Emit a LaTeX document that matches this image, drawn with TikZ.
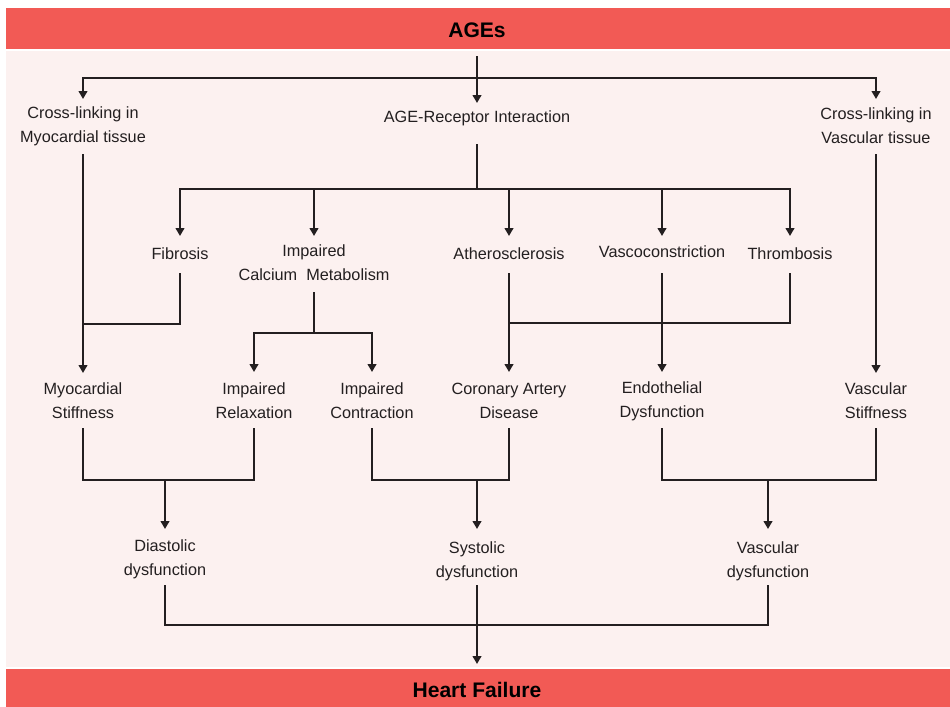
\documentclass[tikz,border=0pt]{standalone}
\usepackage{fontspec}
\setmainfont{Liberation Sans}
\usetikzlibrary{arrows.meta}
\definecolor{barred}{HTML}{F25A55}
\definecolor{panel}{HTML}{FCF1F0}
\definecolor{ink}{HTML}{231F20}
\begin{document}
\begin{tikzpicture}[x=0.75pt,y=-0.75pt,
  lbl/.style={align=center,font=\fontsize{12.2}{18}\selectfont,text=ink,inner sep=0pt},
  bar/.style={draw=none,inner sep=0pt,
              font=\bfseries\fontsize{15.8}{19}\selectfont,text=black},
  ln/.style={draw=ink,line width=1.5pt,line cap=rect},
  arr/.style={ln,-{Triangle[width=6.5pt,length=6pt]}}]
\useasboundingbox (0,0) rectangle (950,707);

% panel and title bars
\fill[panel] (6,51) rectangle (950,667);
\fill[barred] (6,8) rectangle (950,49);
\fill[barred] (6,669) rectangle (950,707);
\node[bar] (ages) at (477,30.5) {AGEs};
\node[bar] (hf) at (477,690) {Heart Failure};

% first level
\node[lbl] (cm)  at (83,126)  {Cross-linking in\\Myocardial tissue};
\node[lbl] (rec) at (477,118) {AGE-Receptor Interaction};
\node[lbl] (cv)  at (876,126) {Cross-linking in\\Vascular tissue};

% receptor effects
\node[lbl] (fib)  at (180,254) {Fibrosis};
\node[lbl] (cal)  at (314,263) {Impaired\\Calcium\ \ Metabolism};
\node[lbl] (ath)  at (509,254) {Atherosclerosis};
\node[lbl] (vaso) at (662,252) {Vascoconstriction};
\node[lbl] (thr)  at (790,254) {Thrombosis};

% tissue-level consequences
\node[lbl] (ms)  at (83,401)  {Myocardial\\Stiffness};
\node[lbl] (ir)  at (254,401) {Impaired\\Relaxation};
\node[lbl] (ic)  at (372,401) {Impaired\\Contraction};
\node[lbl] (cad) at (509,401) {Coronary Artery\\Disease};
\node[lbl] (ed)  at (662,401) {Endothelial\\Dysfunction};
\node[lbl] (vs)  at (876,401) {Vascular\\Stiffness};

% dysfunctions
\node[lbl] (dd) at (165,559) {Diastolic\\dysfunction};
\node[lbl] (sd) at (477,561) {Systolic\\dysfunction};
\node[lbl] (vd) at (768,561) {Vascular\\dysfunction};

% AGEs to first level
\draw[arr] (ages |- 0,57) -- (rec |- 0,103);
\draw[ln]  (cm |- 0,78) -- (cv |- 0,78);
\draw[arr] (cm |- 0,78) -- (cm |- 0,99);
\draw[arr] (cv |- 0,78) -- (cv |- 0,99);

% cross-linking branches
\draw[arr] (cm |- 0,155) -- (ms |- 0,373);
\draw[arr] (cv |- 0,155) -- (vs |- 0,373);

% receptor fan-out
\draw[ln]  (rec |- 0,145) -- (rec |- 0,189);
\draw[ln]  (fib |- 0,189) -- (thr |- 0,189);
\foreach \n in {fib,cal,ath,vaso,thr}
  \draw[arr] (\n |- 0,189) -- (\n |- 0,236);

% fibrosis joins myocardial stiffness
\draw[ln] (fib |- 0,274) -- (fib |- 0,324) -- (ms |- 0,324);

% calcium metabolism split
\draw[ln]  (cal |- 0,293) -- (cal |- 0,333);
\draw[ln]  (ir |- 0,333) -- (ic |- 0,333);
\draw[arr] (ir |- 0,333) -- (ir |- 0,372);
\draw[arr] (ic |- 0,333) -- (ic |- 0,372);

% vascular effects
\draw[arr] (ath |- 0,274) -- (cad |- 0,372);
\draw[arr] (vaso |- 0,274) -- (ed |- 0,372);
\draw[ln]  (thr |- 0,274) -- (thr |- 0,323) -- (ath |- 0,323);

% merging into dysfunctions
\draw[ln]  (ms |- 0,429) -- (ms |- 0,480) -- (ir |- 0,480) -- (ir |- 0,429);
\draw[arr] (dd |- 0,480) -- (dd |- 0,529);
\draw[ln]  (ic |- 0,429) -- (ic |- 0,480) -- (cad |- 0,480) -- (cad |- 0,429);
\draw[arr] (sd |- 0,480) -- (sd |- 0,529);
\draw[ln]  (ed |- 0,429) -- (ed |- 0,480) -- (vs |- 0,480) -- (vs |- 0,429);
\draw[arr] (vd |- 0,480) -- (vd |- 0,529);

% dysfunctions to heart failure
\draw[ln]  (dd |- 0,586) -- (dd |- 0,625) -- (vd |- 0,625) -- (vd |- 0,586);
\draw[ln]  (sd |- 0,586) -- (sd |- 0,625);
\draw[arr] (sd |- 0,625) -- (hf |- 0,664);
\end{tikzpicture}
\end{document}
